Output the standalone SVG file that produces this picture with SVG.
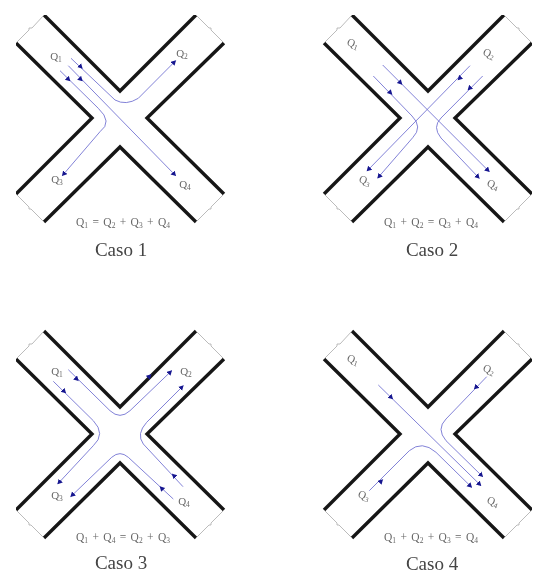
<svg xmlns="http://www.w3.org/2000/svg" width="533" height="574" viewBox="0 0 533 574">
<style>
.wall{fill:none;stroke:#151515;stroke-width:3.4;stroke-linejoin:miter}
.cap{fill:none;stroke:#aaa;stroke-width:.8}
.flow{fill:none;stroke:#7474d2;stroke-width:.9;marker-end:url(#head)}
.mid{fill:none;stroke:#7474d2;stroke-width:.9;marker-end:url(#head)}
text{font-family:"Liberation Serif","Times New Roman",serif;text-anchor:middle}
.q{font-size:11px;fill:#666}
.eq{font-size:11.5px;fill:#666;word-spacing:1.5px}
.caso{font-size:19px;fill:#444}
.s{font-size:7.5px}
</style>
<defs>
<marker id="head" markerUnits="userSpaceOnUse" markerWidth="7" markerHeight="7" refX="4.5" refY="3" orient="auto"><path d="M0 0.2L5 3L0 5.8z" fill="#14148f"/></marker>
<filter id="soft" x="0" y="0" width="100%" height="100%"><feGaussianBlur stdDeviation="0.6"/></filter>
<g id="cross">
<path class="wall" d="M44 15L120 91L196 15"/>
<path class="wall" d="M16 43L92 118L16 194"/>
<path class="wall" d="M224 43L147 118L224 194"/>
<path class="wall" d="M44 222L120 147L196 222"/>
<path class="cap" d="M16 43L29 30L29 28L32 28L44 15M196 15L209 28L211 28L211 30L224 43M16 194L29 207L29 209L31 209L44 222M196 222L209 209L211 209L211 207L224 194"/>
</g>
</defs>
<rect width="533" height="574" fill="#fff"/>
<g filter="url(#soft)">

<g id="caso1">
<use href="#cross"/>
<g id="caso1-flows">
<path class="flow" d="M71 58.3L115 100Q126 106 138.3 98.3L175.7 60.7"/>
<path class="flow" d="M60 70.7L98.3 108.3Q113 122 100 131.7L62.3 175.7"/>
<path class="flow" d="M68.3 65.7L175.7 175.7"/>
<path class="mid" d="M81.6 67.6L82.3 68.3"/><path class="mid" d="M69.3 80.3L70 81"/><path class="mid" d="M81.6 80.3L82.3 81"/>
</g>
<text class="q" x="56" y="60">Q<tspan class="s" dy="2">1</tspan></text>
<text class="q" x="182" y="57">Q<tspan class="s" dy="2">2</tspan></text>
<text class="q" x="57" y="183">Q<tspan class="s" dy="2">3</tspan></text>
<text class="q" x="185" y="188">Q<tspan class="s" dy="2">4</tspan></text>
<text class="eq" x="123" y="226">Q<tspan class="s" dy="2">1</tspan><tspan dy="-2"> = Q</tspan><tspan class="s" dy="2">2</tspan><tspan dy="-2"> + Q</tspan><tspan class="s" dy="2">3</tspan><tspan dy="-2"> + Q</tspan><tspan class="s" dy="2">4</tspan></text>
<text class="caso" x="121" y="256">Caso 1</text>
</g>

<g id="caso2" transform="translate(308,0)">
<use href="#cross"/>
<g id="caso2-flows">
<path class="flow" d="M74.7 65L181.3 171.7"/>
<path class="flow" d="M162 65.7L59 171"/>
<path class="flow" d="M65.3 76L104 116Q115 127 104.7 137.7L69.7 178"/>
<path class="flow" d="M174.7 76L133 118Q124 127 133 138L171.3 178.3"/>
<path class="mid" d="M93.3 83.6L94 84.3"/><path class="mid" d="M83.3 93.6L84 94.3"/><path class="mid" d="M150.7 79.3L150 80"/><path class="mid" d="M160.7 89.3L160 90"/>
</g>
<text class="q" transform="translate(45,43) rotate(20)" y="4">Q<tspan class="s" dy="2">1</tspan></text>
<text class="q" transform="translate(181,53) rotate(20)" y="4">Q<tspan class="s" dy="2">2</tspan></text>
<text class="q" transform="translate(57,180) rotate(20)" y="4">Q<tspan class="s" dy="2">3</tspan></text>
<text class="q" transform="translate(185,184) rotate(20)" y="4">Q<tspan class="s" dy="2">4</tspan></text>
<text class="eq" x="123" y="226">Q<tspan class="s" dy="2">1</tspan><tspan dy="-2"> + Q</tspan><tspan class="s" dy="2">2</tspan><tspan dy="-2"> = Q</tspan><tspan class="s" dy="2">3</tspan><tspan dy="-2"> + Q</tspan><tspan class="s" dy="2">4</tspan></text>
<text class="caso" x="124" y="256">Caso 2</text>
</g>

<g id="caso3" transform="translate(0,316)">
<use href="#cross"/>
<g id="caso3-flows">
<path class="flow" d="M68.3 53.7L110 94.7Q120 104 130 94.7L171.7 54.7"/>
<path class="flow" d="M53.3 65.3L93.3 104.7Q106 118 93.3 129.7L57.7 168"/>
<path class="flow" d="M183 170.7L143.3 128Q136 118 146.7 106.3L183.3 69.7"/>
<path class="flow" d="M173.3 183L128.3 141.3Q120 134 111.7 141.3L70.7 180.7"/>
<path class="mid" d="M77.6 64L78.3 64.7"/><path class="mid" d="M65 76.3L65.7 77"/><path class="mid" d="M150.3 59.4L151 58.7"/><path class="mid" d="M173 158.7L172.3 158"/><path class="mid" d="M160.7 171.4L160 170.7"/>
</g>
<text class="q" x="57" y="59">Q<tspan class="s" dy="2">1</tspan></text>
<text class="q" x="186" y="59">Q<tspan class="s" dy="2">2</tspan></text>
<text class="q" x="57" y="183">Q<tspan class="s" dy="2">3</tspan></text>
<text class="q" x="184" y="189">Q<tspan class="s" dy="2">4</tspan></text>
<text class="eq" x="123" y="225">Q<tspan class="s" dy="2">1</tspan><tspan dy="-2"> + Q</tspan><tspan class="s" dy="2">4</tspan><tspan dy="-2"> = Q</tspan><tspan class="s" dy="2">2</tspan><tspan dy="-2"> + Q</tspan><tspan class="s" dy="2">3</tspan></text>
<text class="caso" x="121" y="253">Caso 3</text>
</g>

<g id="caso4" transform="translate(308,316)">
<use href="#cross"/>
<g id="caso4-flows">
<path class="flow" d="M70.3 69L173 169.7"/>
<path class="flow" d="M178.7 60.7L138 103Q128 113 138 124.7L174.7 160.7"/>
<path class="flow" d="M61.3 174.7L101.3 134.7Q114 124 128 136.3L163.7 171.3"/>
<path class="mid" d="M84 82.3L84.7 83"/><path class="mid" d="M167 72.3L166.3 73"/><path class="mid" d="M74 164.4L74.7 163.7"/>
</g>
<text class="q" transform="translate(45,43) rotate(20)" y="4">Q<tspan class="s" dy="2">1</tspan></text>
<text class="q" transform="translate(181,53) rotate(20)" y="4">Q<tspan class="s" dy="2">2</tspan></text>
<text class="q" transform="translate(56,179) rotate(20)" y="4">Q<tspan class="s" dy="2">3</tspan></text>
<text class="q" transform="translate(185,185) rotate(20)" y="4">Q<tspan class="s" dy="2">4</tspan></text>
<text class="eq" x="123" y="225">Q<tspan class="s" dy="2">1</tspan><tspan dy="-2"> + Q</tspan><tspan class="s" dy="2">2</tspan><tspan dy="-2"> + Q</tspan><tspan class="s" dy="2">3</tspan><tspan dy="-2"> = Q</tspan><tspan class="s" dy="2">4</tspan></text>
<text class="caso" x="124" y="254">Caso 4</text>
</g>

</g>
</svg>
